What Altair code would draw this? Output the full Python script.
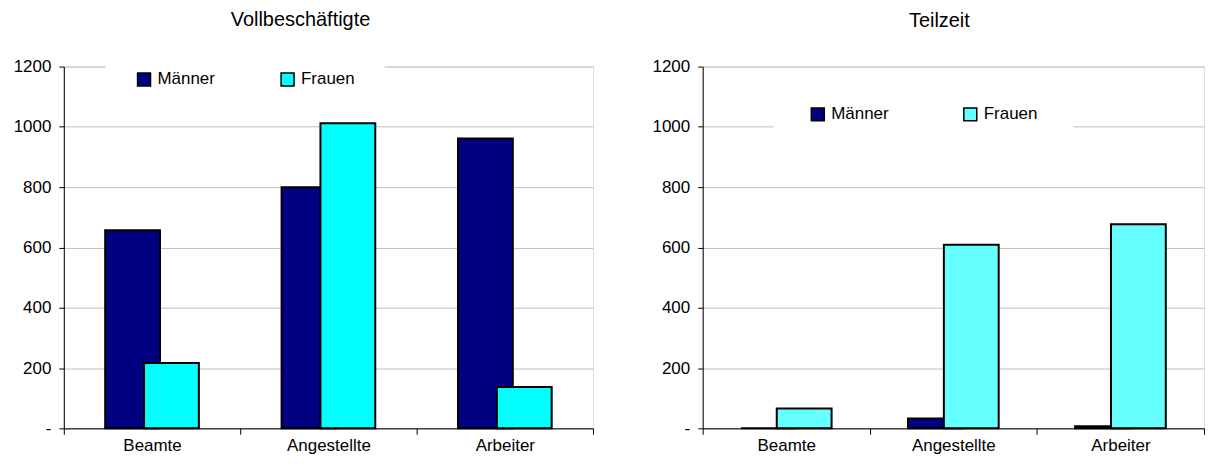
import altair as alt
import pandas as pd

categories = ["Beamte", "Angestellte", "Arbeiter"]
series = ["Männer", "Frauen"]
voll_maenner = [657, 800, 961]
voll_frauen = [217, 1012, 137]
teil_maenner = [0, 33, 7]
teil_frauen = [66, 609, 677]
y_ticks = [0, 200, 400, 600, 800, 1000, 1200]

FONT = "Liberation Sans"


def make_df(m, f):
    rows = []
    for c, v in zip(categories, m):
        rows.append({"Kategorie": c, "Geschlecht": "Männer", "Wert": v})
    for c, v in zip(categories, f):
        rows.append({"Kategorie": c, "Geschlecht": "Frauen", "Wert": v})
    return pd.DataFrame(rows)


def panel(df, title, colors, width, offset, legend_x, legend_y, legend_pad, col_pad,
          title_dx, title_offset):
    x = alt.X(
        "Kategorie:N", sort=categories,
        scale=alt.Scale(paddingInner=0, paddingOuter=0),
        axis=alt.Axis(title=None, labelAngle=0, tickBand="extent", tickSize=6, labelPadding=3,
                      domainColor="black", tickColor="black", labelFontSize=17,
                      labelColor="black", labelFont=FONT),
    )
    y = alt.Y(
        "Wert:Q",
        scale=alt.Scale(domain=[0, 1200], nice=False),
        axis=alt.Axis(title=None, values=y_ticks,
                      labelExpr="datum.value == 0 ? '-' : format(datum.value, 'd')",
                      tickSize=5, labelPadding=8, gridColor="#c0c0c0",
                      domainColor="black", tickColor="black", labelFontSize=17,
                      labelFont=FONT, labelColor="black"),
    )
    color = alt.Color(
        "Geschlecht:N", sort=series,
        scale=alt.Scale(domain=series, range=colors),
        legend=alt.Legend(title=None, orient="none", direction="horizontal",
                          legendX=legend_x, legendY=legend_y, fillColor="white",
                          padding=legend_pad, columnPadding=col_pad, symbolType="square",
                          symbolSize=169, symbolStrokeColor="black", symbolStrokeWidth=1.5,
                          symbolOpacity=1, labelFontSize=17, labelFont=FONT,
                          labelColor="black", labelOffset=5),
    )
    base = alt.Chart(df).encode(x=x, y=y, color=color)
    m = base.transform_filter(alt.datum.Geschlecht == "Männer").mark_bar(
        width=55, xOffset=-offset, stroke="black", strokeWidth=2, opacity=1)
    f = base.transform_filter(alt.datum.Geschlecht == "Frauen").mark_bar(
        width=55, xOffset=offset, stroke="black", strokeWidth=2, opacity=1)
    return alt.layer(m, f).properties(
        width=width, height=363,
        title=alt.TitleParams(title, fontSize=20, font=FONT, fontWeight="normal",
                              anchor="middle", frame="group", dx=title_dx,
                              offset=title_offset, color="black"),
    )


left = panel(make_df(voll_maenner, voll_frauen), "Vollbeschäftigte",
             ["#000080", "#00FFFF"], 531, 19.5, 42, -25.5, 30, 63, -28, 11)
right = panel(make_df(teil_maenner, teil_frauen), "Teilzeit",
              ["#000080", "#66FFFF"], 503, 18, 71, 3.5, 36, 72, -14, 27)

chart = alt.hconcat(left, right, spacing=57).resolve_scale(color="independent").resolve_legend(
    color="independent").properties(
    padding={"left": 4, "top": 1, "right": 0, "bottom": 0}
).configure_view(stroke="#a0a0a0").configure(font=FONT)

chart.save("out.html", embed_options={"renderer": "svg", "actions": False})
